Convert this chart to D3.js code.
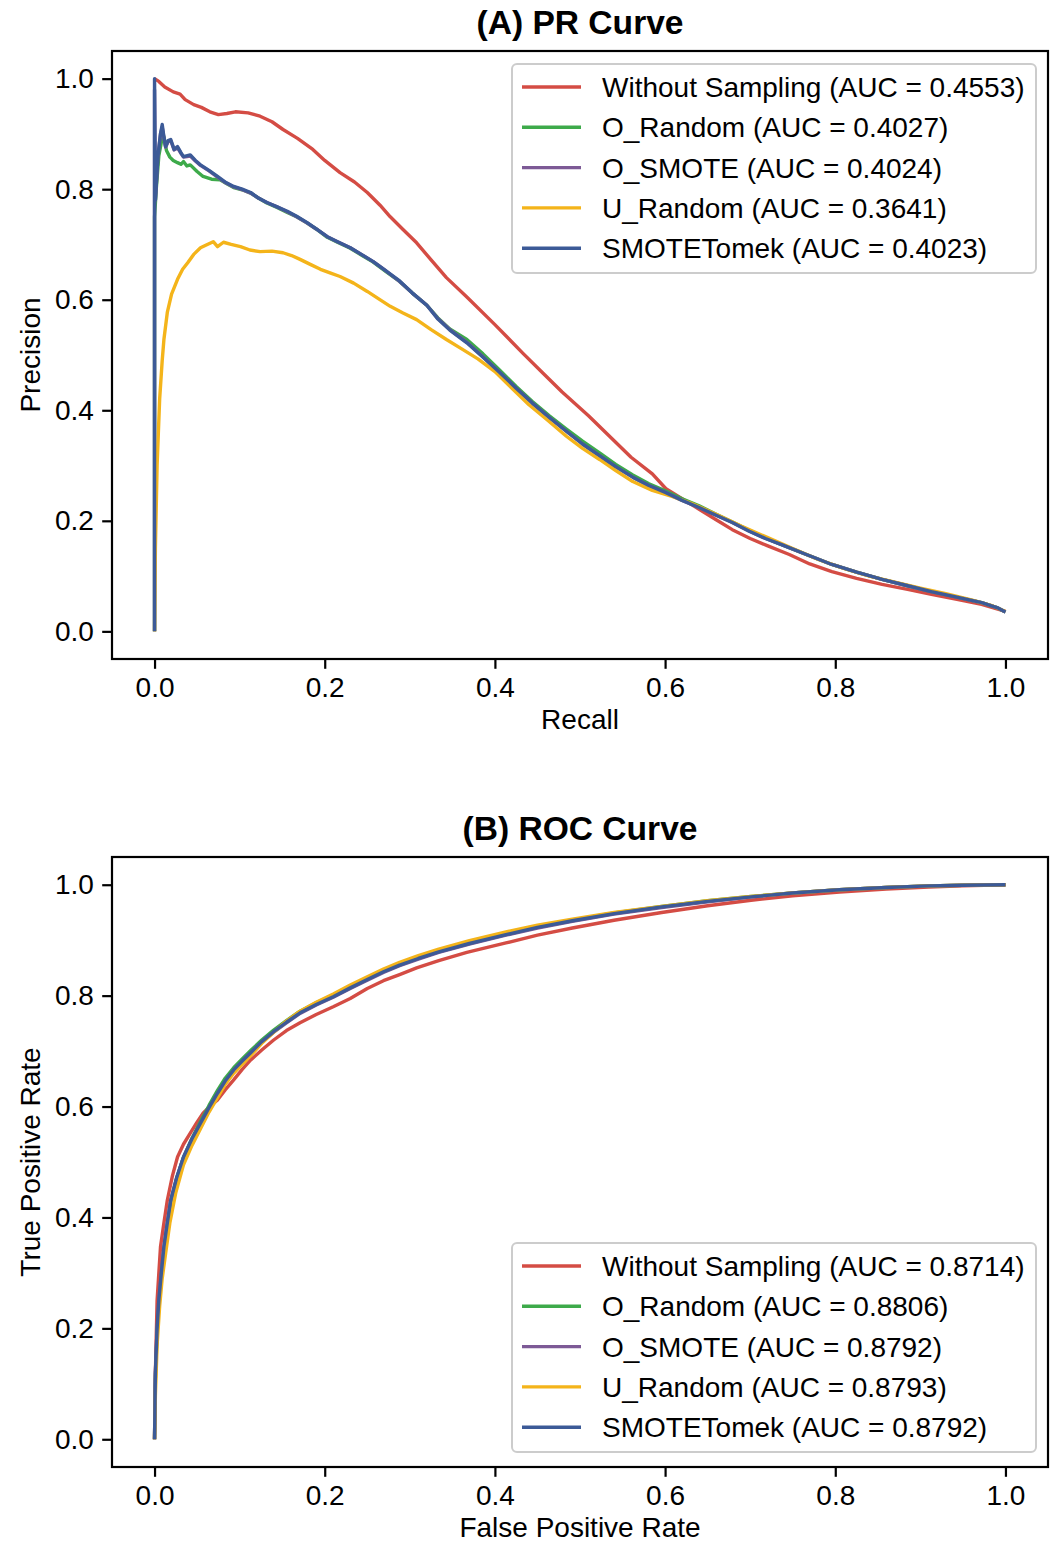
<!DOCTYPE html>
<html>
<head>
<meta charset="utf-8">
<script src="https://cdn.jsdelivr.net/npm/d3@7"></script>
<style>
  body { margin: 0; background: #fff; }
  svg { display: block; }
  text { font-family: "Liberation Sans", Arial, sans-serif; fill: #000; }
</style>
</head>
<body>
<div id="chart"></div>
<script>
// ---- data ----
const seriesNames = ['Without Sampling', 'O_Random', 'O_SMOTE', 'U_Random', 'SMOTETomek'];
const seriesColors = ['#d44c44', '#3daa4a', '#7d5a96', '#f4b41a', '#3c5a97'];
const prAuc = ['0.4553', '0.4027', '0.4024', '0.3641', '0.4023'];
const rocAuc = ['0.8714', '0.8806', '0.8792', '0.8793', '0.8792'];
const tickValues = [0, 0.2, 0.4, 0.6, 0.8, 1.0];

// PR curves: [recall, precision]
const prWithout = [[0,1.0],[0.005,0.995],[0.012,0.985],[0.022,0.976],[0.03,0.972],[0.036,0.962],[0.046,0.953],[0.055,0.948],[0.065,0.94],[0.075,0.935],[0.085,0.937],[0.095,0.94],[0.11,0.938],[0.124,0.932],[0.138,0.922],[0.151,0.908],[0.168,0.892],[0.186,0.872],[0.2,0.852],[0.218,0.83],[0.235,0.813],[0.25,0.794],[0.265,0.771],[0.277,0.75],[0.292,0.727],[0.308,0.703],[0.325,0.672],[0.343,0.64],[0.367,0.605],[0.4,0.555],[0.433,0.503],[0.456,0.468],[0.479,0.433],[0.51,0.39],[0.538,0.348],[0.56,0.315],[0.585,0.285],[0.601,0.258],[0.62,0.24],[0.64,0.221],[0.66,0.202],[0.679,0.184],[0.7,0.168],[0.72,0.155],[0.746,0.139],[0.77,0.122],[0.796,0.108],[0.825,0.096],[0.855,0.085],[0.885,0.076],[0.913,0.067],[0.943,0.058],[0.972,0.049],[1.0,0.036]];
const prORandom = [[0,0],[0,0.75],[0.002,0.8],[0.005,0.86],[0.008,0.885],[0.011,0.895],[0.014,0.87],[0.018,0.858],[0.022,0.852],[0.027,0.848],[0.031,0.845],[0.034,0.85],[0.038,0.842],[0.042,0.844],[0.05,0.832],[0.057,0.823],[0.067,0.818],[0.077,0.817],[0.085,0.81],[0.093,0.803],[0.103,0.799],[0.113,0.793],[0.122,0.784],[0.132,0.775],[0.144,0.767],[0.156,0.758],[0.167,0.75],[0.179,0.739],[0.19,0.728],[0.203,0.713],[0.215,0.704],[0.23,0.693],[0.243,0.681],[0.257,0.668],[0.272,0.651],[0.288,0.633],[0.303,0.612],[0.32,0.59],[0.333,0.567],[0.347,0.547],[0.367,0.528],[0.386,0.502],[0.406,0.472],[0.425,0.443],[0.444,0.416],[0.464,0.39],[0.484,0.366],[0.503,0.344],[0.523,0.323],[0.542,0.302],[0.562,0.283],[0.581,0.267],[0.601,0.254],[0.62,0.24],[0.64,0.227],[0.66,0.212],[0.679,0.198],[0.699,0.183],[0.718,0.169],[0.737,0.157],[0.766,0.139],[0.796,0.121],[0.825,0.107],[0.855,0.094],[0.884,0.083],[0.913,0.072],[0.943,0.062],[0.972,0.052],[0.99,0.043],[1.0,0.035]];
const prOSmote = [[0,0],[0,0.98],[0.001,0.78],[0.004,0.86],[0.007,0.9],[0.009,0.912],[0.011,0.893],[0.013,0.876],[0.016,0.886],[0.019,0.888],[0.023,0.871],[0.027,0.875],[0.031,0.865],[0.034,0.858],[0.042,0.86],[0.048,0.851],[0.054,0.843],[0.064,0.833],[0.074,0.822],[0.084,0.811],[0.093,0.804],[0.103,0.799],[0.113,0.793],[0.122,0.784],[0.132,0.776],[0.144,0.768],[0.156,0.759],[0.167,0.75],[0.179,0.739],[0.19,0.728],[0.203,0.714],[0.215,0.705],[0.23,0.694],[0.243,0.682],[0.257,0.669],[0.272,0.652],[0.288,0.633],[0.303,0.612],[0.32,0.59],[0.333,0.566],[0.347,0.546],[0.367,0.523],[0.386,0.497],[0.406,0.468],[0.425,0.44],[0.444,0.413],[0.464,0.387],[0.484,0.362],[0.503,0.339],[0.523,0.318],[0.542,0.298],[0.562,0.279],[0.581,0.264],[0.601,0.251],[0.62,0.237],[0.64,0.224],[0.66,0.21],[0.679,0.197],[0.699,0.181],[0.718,0.168],[0.737,0.157],[0.766,0.139],[0.796,0.121],[0.825,0.107],[0.855,0.094],[0.884,0.083],[0.913,0.072],[0.943,0.062],[0.972,0.052],[0.99,0.043],[1.0,0.035]];
const prURandom = [[0,0],[0.001,0.15],[0.003,0.3],[0.006,0.42],[0.009,0.49],[0.011,0.528],[0.015,0.577],[0.02,0.61],[0.027,0.637],[0.033,0.655],[0.039,0.667],[0.046,0.682],[0.054,0.694],[0.062,0.7],[0.069,0.705],[0.074,0.696],[0.081,0.704],[0.09,0.7],[0.101,0.696],[0.112,0.69],[0.124,0.687],[0.138,0.688],[0.151,0.685],[0.161,0.68],[0.171,0.673],[0.183,0.664],[0.195,0.655],[0.207,0.648],[0.218,0.642],[0.234,0.63],[0.25,0.615],[0.263,0.602],[0.277,0.588],[0.292,0.576],[0.308,0.564],[0.325,0.546],[0.343,0.528],[0.36,0.512],[0.38,0.493],[0.4,0.47],[0.42,0.44],[0.44,0.41],[0.462,0.382],[0.484,0.353],[0.503,0.331],[0.523,0.311],[0.542,0.291],[0.562,0.271],[0.585,0.255],[0.608,0.244],[0.63,0.232],[0.66,0.212],[0.69,0.19],[0.72,0.17],[0.75,0.15],[0.78,0.13],[0.81,0.114],[0.84,0.1],[0.87,0.089],[0.9,0.078],[0.93,0.068],[0.96,0.057],[0.985,0.046],[1.0,0.036]];
const prSmoteTomek = [[0,0],[0,1.0],[0.001,0.78],[0.004,0.86],[0.007,0.9],[0.009,0.917],[0.011,0.895],[0.013,0.877],[0.016,0.888],[0.019,0.89],[0.023,0.872],[0.027,0.877],[0.031,0.866],[0.034,0.859],[0.042,0.862],[0.048,0.852],[0.054,0.844],[0.064,0.834],[0.074,0.823],[0.084,0.812],[0.093,0.805],[0.103,0.8],[0.113,0.794],[0.122,0.784],[0.132,0.776],[0.144,0.768],[0.156,0.76],[0.167,0.751],[0.179,0.74],[0.19,0.728],[0.203,0.714],[0.215,0.705],[0.23,0.694],[0.243,0.682],[0.257,0.669],[0.272,0.652],[0.288,0.634],[0.303,0.612],[0.32,0.59],[0.333,0.565],[0.347,0.545],[0.367,0.522],[0.386,0.496],[0.406,0.468],[0.425,0.44],[0.444,0.413],[0.464,0.387],[0.484,0.362],[0.503,0.339],[0.523,0.318],[0.542,0.298],[0.562,0.279],[0.581,0.264],[0.601,0.251],[0.62,0.237],[0.64,0.224],[0.66,0.21],[0.679,0.197],[0.699,0.181],[0.718,0.168],[0.737,0.157],[0.766,0.139],[0.796,0.121],[0.825,0.107],[0.855,0.094],[0.884,0.083],[0.913,0.072],[0.943,0.062],[0.972,0.052],[0.99,0.043],[1.0,0.035]];

// ROC curves: [fpr, tpr]
const rocWithout = [[0,0],[0.001,0.12],[0.003,0.25],[0.007,0.347],[0.011,0.39],[0.015,0.431],[0.021,0.475],[0.027,0.509],[0.034,0.532],[0.042,0.552],[0.05,0.572],[0.057,0.588],[0.065,0.6],[0.074,0.612],[0.083,0.63],[0.093,0.648],[0.103,0.667],[0.113,0.684],[0.126,0.702],[0.14,0.72],[0.155,0.737],[0.171,0.751],[0.19,0.766],[0.21,0.78],[0.23,0.795],[0.25,0.813],[0.269,0.827],[0.288,0.838],[0.308,0.85],[0.334,0.863],[0.367,0.878],[0.413,0.895],[0.45,0.909],[0.491,0.922],[0.54,0.936],[0.596,0.95],[0.65,0.962],[0.701,0.972],[0.75,0.98],[0.805,0.987],[0.86,0.992],[0.91,0.996],[0.95,0.998],[1,1]];
const rocORandom = [[0,0],[0.001,0.11],[0.003,0.19],[0.005,0.24],[0.008,0.295],[0.011,0.34],[0.015,0.385],[0.019,0.428],[0.026,0.47],[0.034,0.508],[0.044,0.543],[0.054,0.573],[0.064,0.602],[0.074,0.629],[0.083,0.651],[0.093,0.67],[0.103,0.686],[0.113,0.701],[0.126,0.72],[0.14,0.738],[0.155,0.755],[0.171,0.772],[0.19,0.787],[0.21,0.801],[0.23,0.817],[0.25,0.832],[0.269,0.846],[0.288,0.858],[0.31,0.869],[0.334,0.881],[0.37,0.896],[0.413,0.912],[0.45,0.924],[0.491,0.936],[0.54,0.949],[0.596,0.961],[0.65,0.971],[0.701,0.979],[0.75,0.985],[0.805,0.991],[0.86,0.995],[0.91,0.998],[0.95,0.999],[1,1]];
const rocOSmote = [[0,0],[0.001,0.12],[0.003,0.2],[0.005,0.25],[0.008,0.3],[0.011,0.346],[0.015,0.39],[0.019,0.43],[0.026,0.471],[0.034,0.508],[0.044,0.541],[0.054,0.569],[0.064,0.597],[0.074,0.623],[0.083,0.645],[0.093,0.665],[0.103,0.681],[0.113,0.696],[0.126,0.716],[0.14,0.734],[0.155,0.751],[0.171,0.768],[0.19,0.783],[0.21,0.797],[0.23,0.813],[0.25,0.828],[0.269,0.842],[0.288,0.854],[0.31,0.866],[0.334,0.878],[0.37,0.893],[0.413,0.909],[0.45,0.922],[0.491,0.934],[0.54,0.947],[0.596,0.959],[0.65,0.969],[0.701,0.978],[0.75,0.985],[0.805,0.991],[0.86,0.995],[0.91,0.998],[0.95,0.999],[1,1]];
const rocURandom = [[0,0],[0.001,0.08],[0.003,0.17],[0.006,0.24],[0.009,0.29],[0.013,0.335],[0.018,0.39],[0.025,0.445],[0.034,0.495],[0.044,0.53],[0.054,0.56],[0.064,0.59],[0.074,0.616],[0.083,0.64],[0.093,0.66],[0.103,0.676],[0.113,0.692],[0.126,0.714],[0.14,0.734],[0.155,0.754],[0.171,0.772],[0.19,0.788],[0.21,0.803],[0.23,0.819],[0.25,0.834],[0.269,0.848],[0.288,0.86],[0.31,0.872],[0.334,0.884],[0.37,0.899],[0.413,0.915],[0.45,0.927],[0.491,0.938],[0.54,0.95],[0.596,0.961],[0.65,0.971],[0.701,0.979],[0.75,0.985],[0.805,0.991],[0.86,0.995],[0.91,0.998],[0.95,0.999],[1,1]];
const rocSmoteTomek = [[0,0],[0.001,0.12],[0.003,0.2],[0.005,0.25],[0.008,0.3],[0.011,0.347],[0.015,0.39],[0.019,0.431],[0.026,0.472],[0.034,0.509],[0.044,0.542],[0.054,0.57],[0.064,0.598],[0.074,0.624],[0.083,0.646],[0.093,0.666],[0.103,0.682],[0.113,0.697],[0.126,0.717],[0.14,0.735],[0.155,0.752],[0.171,0.769],[0.19,0.784],[0.21,0.798],[0.23,0.814],[0.25,0.829],[0.269,0.843],[0.288,0.855],[0.31,0.867],[0.334,0.879],[0.37,0.894],[0.413,0.91],[0.45,0.923],[0.491,0.935],[0.54,0.948],[0.596,0.96],[0.65,0.97],[0.701,0.978],[0.75,0.985],[0.805,0.991],[0.86,0.995],[0.91,0.998],[0.95,0.999],[1,1]];

const prSeries = [prWithout, prORandom, prOSmote, prURandom, prSmoteTomek];
const rocSeries = [rocWithout, rocORandom, rocOSmote, rocURandom, rocSmoteTomek];

// ---- layout ----
const W = 1052, H = 1544;
const svg = d3.select('#chart').append('svg').attr('width', W).attr('height', H);

const TICK = 9.8, PAD = 8.4, FS = 28;

function drawPanel(opts) {
  const { top, bottom, left, right, title, xLabel, yLabel, data, auc, legendTop } = opts;
  const x = d3.scaleLinear().domain([-0.05, 1.05]).range([left, right]);
  const y = d3.scaleLinear().domain([-0.05, 1.05]).range([bottom, top]);
  const g = svg.append('g');

  // clip to axes area
  const clipId = 'clip' + Math.round(top);
  g.append('clipPath').attr('id', clipId)
    .append('rect').attr('x', left).attr('y', top).attr('width', right - left).attr('height', bottom - top);

  const line = d3.line().x(d => x(d[0])).y(d => y(d[1]));
  const lines = g.append('g').attr('clip-path', `url(#${clipId})`);
  data.forEach((s, i) => {
    lines.append('path')
      .attr('d', line(s))
      .attr('fill', 'none')
      .attr('stroke', seriesColors[i])
      .attr('stroke-width', 3.4)
      .attr('stroke-linejoin', 'round')
      .attr('stroke-linecap', 'butt');
  });

  // axes
  const xAxis = d3.axisBottom(x).tickValues(tickValues).tickFormat(d3.format('.1f'))
    .tickSizeInner(TICK).tickSizeOuter(0).tickPadding(PAD);
  const yAxis = d3.axisLeft(y).tickValues(tickValues).tickFormat(d3.format('.1f'))
    .tickSizeInner(TICK).tickSizeOuter(0).tickPadding(PAD);

  const gx = g.append('g').attr('transform', `translate(0,${bottom})`).call(xAxis);
  const gy = g.append('g').attr('transform', `translate(${left},0)`).call(yAxis);
  [gx, gy].forEach(a => {
    a.select('.domain').remove();
    a.selectAll('.tick line').attr('stroke', '#000').attr('stroke-width', 2.2);
    a.selectAll('.tick text').style('font-size', FS + 'px')
      .style('font-family', '"Liberation Sans", Arial, sans-serif').attr('fill', '#000');
  });

  // frame
  g.append('rect')
    .attr('x', left).attr('y', top)
    .attr('width', right - left).attr('height', bottom - top)
    .attr('fill', 'none').attr('stroke', '#000').attr('stroke-width', 2.2);

  // title and labels
  g.append('text')
    .attr('x', (left + right) / 2).attr('y', top - 17)
    .attr('text-anchor', 'middle')
    .style('font-size', '33.6px').style('font-weight', 'bold')
    .text(title);
  g.append('text')
    .attr('x', (left + right) / 2).attr('y', bottom + 70)
    .attr('text-anchor', 'middle')
    .style('font-size', FS + 'px')
    .text(xLabel);
  g.append('text')
    .attr('transform', `translate(40,${(top + bottom) / 2}) rotate(-90)`)
    .attr('text-anchor', 'middle')
    .style('font-size', FS + 'px')
    .text(yLabel);

  // legend
  const lg = g.append('g');
  lg.append('rect')
    .attr('x', 512).attr('y', legendTop)
    .attr('width', 524).attr('height', 209)
    .attr('rx', 5).attr('ry', 5)
    .attr('fill', '#fff').attr('fill-opacity', 0.8)
    .attr('stroke', '#cccccc').attr('stroke-width', 2);
  seriesNames.forEach((name, i) => {
    const cy = legendTop + 23 + i * 40.3;
    lg.append('line')
      .attr('x1', 522).attr('x2', 581).attr('y1', cy).attr('y2', cy)
      .attr('stroke', seriesColors[i]).attr('stroke-width', 3.4);
    lg.append('text')
      .attr('x', 602).attr('y', cy + 10)
      .style('font-size', FS + 'px')
      .text(`${name} (AUC = ${auc[i]})`);
  });
}

drawPanel({
  top: 51, bottom: 659, left: 112, right: 1048,
  title: '(A) PR Curve', xLabel: 'Recall', yLabel: 'Precision',
  data: prSeries, auc: prAuc, legendTop: 64
});

drawPanel({
  top: 857, bottom: 1467, left: 112, right: 1048,
  title: '(B) ROC Curve', xLabel: 'False Positive Rate', yLabel: 'True Positive Rate',
  data: rocSeries, auc: rocAuc, legendTop: 1243
});
</script>
</body>
</html>
